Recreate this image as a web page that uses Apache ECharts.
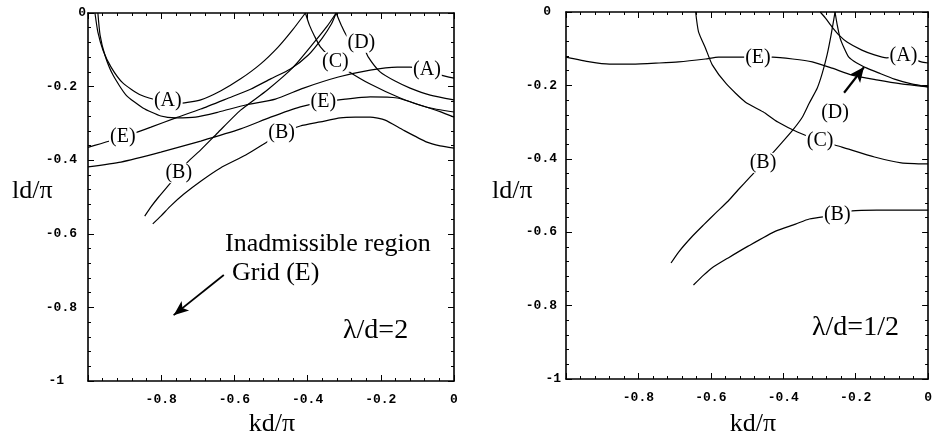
<!DOCTYPE html>
<html>
<head>
<meta charset="utf-8">
<script src="https://cdn.jsdelivr.net/npm/echarts/dist/echarts.min.js"></script>
<style>
  html, body { margin: 0; padding: 0; background: #fff; }
  #chart { width: 935px; height: 440px; }
</style>
</head>
<body>
<div id="chart"></div>
<script>
// ---- λ/d = 2 (left panel): loci in the (kd/π, ld/π) plane ----
const leftA1 = [[-0.981,0],[-0.973,-0.052],[-0.959,-0.101],[-0.937,-0.147],[-0.905,-0.190],[-0.856,-0.223],[-0.801,-0.239],[-0.747,-0.245],[-0.692,-0.236],[-0.638,-0.212],[-0.583,-0.179],[-0.529,-0.139],[-0.480,-0.092],[-0.441,-0.046],[-0.406,0]];
const leftA2 = [[-0.973,0],[-0.967,-0.060],[-0.954,-0.114],[-0.932,-0.168],[-0.896,-0.223],[-0.850,-0.258],[-0.801,-0.280],[-0.760,-0.285],[-0.706,-0.283],[-0.643,-0.269],[-0.569,-0.250],[-0.488,-0.234],[-0.411,-0.204],[-0.316,-0.174],[-0.229,-0.155],[-0.155,-0.147],[-0.120,-0.147],[-0.074,-0.155],[-0.038,-0.168],[0,-0.177]];
const leftE1 = [[-1.0,-0.365],[-0.905,-0.337],[-0.828,-0.310],[-0.760,-0.285],[-0.692,-0.261],[-0.616,-0.231],[-0.556,-0.207],[-0.501,-0.179],[-0.447,-0.152],[-0.398,-0.114],[-0.360,-0.068],[-0.335,-0.030],[-0.322,0]];
const leftE2 = [[-1.0,-0.418],[-0.910,-0.405],[-0.801,-0.378],[-0.692,-0.348],[-0.583,-0.315],[-0.501,-0.283],[-0.420,-0.255],[-0.357,-0.242],[-0.297,-0.234],[-0.229,-0.228],[-0.155,-0.231],[-0.093,-0.250],[-0.038,-0.268],[0,-0.283]];
const leftB1 = [[-0.845,-0.552],[-0.828,-0.527],[-0.807,-0.500],[-0.779,-0.467],[-0.752,-0.435],[-0.728,-0.405],[-0.692,-0.372],[-0.646,-0.326],[-0.583,-0.264],[-0.510,-0.209],[-0.439,-0.147],[-0.384,-0.082],[-0.346,-0.035],[-0.322,0]];
const leftB2 = [[-0.823,-0.573],[-0.801,-0.552],[-0.774,-0.524],[-0.738,-0.492],[-0.692,-0.457],[-0.638,-0.421],[-0.569,-0.386],[-0.515,-0.353],[-0.471,-0.326],[-0.420,-0.307],[-0.365,-0.296],[-0.311,-0.285],[-0.270,-0.283],[-0.229,-0.283],[-0.188,-0.291],[-0.139,-0.318],[-0.074,-0.351],[-0.038,-0.361],[0,-0.367]];
const leftC = [[-0.406,0],[-0.395,-0.033],[-0.381,-0.063],[-0.365,-0.092],[-0.324,-0.133],[-0.289,-0.158],[-0.229,-0.193],[-0.147,-0.231],[-0.074,-0.256],[0,-0.269]];
const leftD = [[-0.322,0],[-0.308,-0.033],[-0.292,-0.063],[-0.253,-0.081],[-0.234,-0.120],[-0.202,-0.160],[-0.161,-0.185],[-0.120,-0.204],[-0.065,-0.223],[0,-0.236]];
const leftLabels = [['(A)',-0.782,-0.239],['(A)',-0.074,-0.155],['(E)',-0.905,-0.337],['(E)',-0.357,-0.242],['(B)',-0.752,-0.435],['(B)',-0.471,-0.326],['(C)',-0.324,-0.133],['(D)',-0.253,-0.081]];
const leftArrow = [[-0.629,-0.712],[-0.766,-0.821]];

// ---- λ/d = 1/2 (right panel) ----
const rightE = [[-1.0,-0.123],[-0.934,-0.136],[-0.880,-0.142],[-0.817,-0.142],[-0.743,-0.139],[-0.689,-0.136],[-0.615,-0.128],[-0.579,-0.123],[-0.505,-0.123],[-0.470,-0.125],[-0.429,-0.123],[-0.374,-0.128],[-0.320,-0.136],[-0.265,-0.153],[-0.210,-0.172],[-0.142,-0.185],[-0.074,-0.196],[0,-0.204]];
const rightC = [[-0.642,0],[-0.634,-0.054],[-0.615,-0.098],[-0.596,-0.144],[-0.557,-0.196],[-0.505,-0.245],[-0.456,-0.272],[-0.415,-0.300],[-0.361,-0.327],[-0.298,-0.351],[-0.238,-0.368],[-0.148,-0.395],[-0.074,-0.411],[0,-0.414]];
const rightB1 = [[-0.710,-0.684],[-0.689,-0.654],[-0.653,-0.613],[-0.620,-0.580],[-0.587,-0.548],[-0.552,-0.515],[-0.525,-0.485],[-0.492,-0.450],[-0.456,-0.411],[-0.429,-0.384],[-0.402,-0.354],[-0.374,-0.322],[-0.347,-0.286],[-0.328,-0.248],[-0.306,-0.207],[-0.292,-0.166],[-0.279,-0.117],[-0.268,-0.063],[-0.257,0]];
const rightB2 = [[-0.648,-0.744],[-0.620,-0.717],[-0.598,-0.698],[-0.552,-0.670],[-0.497,-0.638],[-0.421,-0.597],[-0.366,-0.578],[-0.328,-0.564],[-0.251,-0.553],[-0.210,-0.542],[-0.142,-0.540],[0,-0.540]];
const rightA = [[-0.298,0],[-0.284,-0.016],[-0.265,-0.041],[-0.246,-0.063],[-0.224,-0.082],[-0.183,-0.104],[-0.148,-0.117],[-0.115,-0.125],[-0.068,-0.120],[-0.019,-0.136],[0,-0.139]];
const rightD = [[-0.257,0],[-0.251,-0.035],[-0.243,-0.071],[-0.232,-0.098],[-0.219,-0.123],[-0.197,-0.139],[-0.169,-0.153],[-0.137,-0.166],[-0.093,-0.183],[-0.046,-0.196],[0,-0.204]];
const rightLabels = [['(E)',-0.470,-0.125],['(C)',-0.298,-0.351],['(B)',-0.456,-0.411],['(B)',-0.251,-0.553],['(A)',-0.068,-0.120],['(D)',-0.257,-0.275]];
const rightArrow = [[-0.232,-0.220],[-0.177,-0.150]];

// axis range and tick step shared by both panels
const axisMin = -1, axisMax = 0, axisStep = 0.2;

const serif = '"Liberation Serif", "Times New Roman", serif';
const mono = '"Liberation Mono", "Courier New", monospace';

function fmtY(v) {
  if (Math.abs(v) < 1e-9) return '{z|0}';
  if (Math.abs(v + 1) < 1e-9) return '{m|-1}';
  return '{n|' + v.toFixed(1) + '}';
}
function fmtX(v) {
  if (Math.abs(v) < 1e-9) return '0';
  return v.toFixed(1);
}

function xAxisFor(gi, pos) {
  return {
    type: 'value', gridIndex: gi, position: pos,
    min: axisMin, max: axisMax, interval: axisStep,
    axisLine: { show: true, onZero: false, lineStyle: { color: '#000', width: 1.6 } },
    axisTick: { show: true, inside: true, length: 6, lineStyle: { color: '#000', width: 1 } },
    minorTick: { show: true, splitNumber: 5, length: 3, lineStyle: { color: '#000', width: 1 } },
    splitLine: { show: false },
    axisLabel: pos === 'bottom'
      ? { show: true, showMinLabel: false, margin: 12, formatter: fmtX,
          fontFamily: mono, fontSize: 13, fontWeight: 'bold', color: '#000' }
      : { show: false }
  };
}
function yAxisFor(gi, pos, pads) {
  return {
    type: 'value', gridIndex: gi, position: pos,
    min: axisMin, max: axisMax, interval: axisStep,
    axisLine: { show: true, onZero: false, lineStyle: { color: '#000', width: 1.6 } },
    axisTick: { show: true, inside: true, length: 6, lineStyle: { color: '#000', width: 1 } },
    minorTick: { show: true, splitNumber: 5, length: 3, lineStyle: { color: '#000', width: 1 } },
    splitLine: { show: false },
    axisLabel: pos === 'left'
      ? { show: true, margin: 2, formatter: fmtY, color: '#000',
          rich: {
            n: { fontFamily: mono, fontSize: 13, fontWeight: 'bold', color: '#000', padding: [0, pads[0], 0, 0] },
            z: { fontFamily: mono, fontSize: 13, fontWeight: 'bold', color: '#000', padding: [0, pads[1], 0, 0] },
            m: { fontFamily: mono, fontSize: 13, fontWeight: 'bold', color: '#000', padding: [0, pads[2], 0, 0] }
          } }
      : { show: false }
  };
}

function curve(data, gi) {
  return {
    type: 'line', data: data, xAxisIndex: gi * 2, yAxisIndex: gi * 2,
    symbol: 'none', showSymbol: false, smooth: 0.2, silent: true, z: 2,
    lineStyle: { color: '#000', width: 1.2 }
  };
}
function tags(list, gi) {
  return {
    type: 'scatter', xAxisIndex: gi * 2, yAxisIndex: gi * 2, z: 5, silent: true,
    symbolSize: 1, itemStyle: { color: '#fff', opacity: 1 },
    data: list.map(t => [t[1], t[2], t[0]]),
    label: {
      show: true, position: 'inside', formatter: p => p.data[2],
      fontFamily: serif, fontSize: 20, color: '#000', opacity: 1,
      textBorderWidth: 0, fontWeight: 'normal',
      backgroundColor: '#fff', padding: [0, 1], lineHeight: 20
    }
  };
}
function arrow(pair, gi, width, size) {
  return {
    type: 'line', data: [], xAxisIndex: gi * 2, yAxisIndex: gi * 2, silent: true,
    markLine: {
      silent: true, symbol: ['none', 'arrow'], symbolSize: size,
      label: { show: false },
      lineStyle: { color: '#000', width: width, type: 'solid' },
      data: [[{ coord: pair[0] }, { coord: pair[1] }]]
    }
  };
}

const chart = echarts.init(document.getElementById('chart'), null, { renderer: 'canvas' });

const textStyle = (text, x, y, size, align) => ({
  type: 'text', silent: true,
  style: { text: text, x: x, y: y, font: size + 'px ' + serif, fill: '#000',
           align: align || 'left', verticalAlign: 'middle',
           textAlign: align || 'left', textVerticalAlign: 'middle' }
});

chart.setOption({
  animation: false,
  backgroundColor: '#fff',
  grid: [
    { left: 88, top: 13, width: 366, height: 368 },
    { left: 566, top: 12, width: 366, height: 367 }
  ],
  xAxis: [
    xAxisFor(0, 'bottom'), xAxisFor(0, 'top'),
    xAxisFor(1, 'bottom'), xAxisFor(1, 'top')
  ],
  yAxis: [
    yAxisFor(0, 'left', [9, 0, 22]), yAxisFor(0, 'right'),
    yAxisFor(1, 'left', [7, 13, 3]), yAxisFor(1, 'right')
  ],
  series: [
    curve(leftA1, 0), curve(leftA2, 0), curve(leftE1, 0), curve(leftE2, 0),
    curve(leftB1, 0), curve(leftB2, 0), curve(leftC, 0), curve(leftD, 0),
    tags(leftLabels, 0),
    arrow(leftArrow, 0, 1.8, [9, 15]),
    curve(rightE, 1), curve(rightC, 1), curve(rightB1, 1), curve(rightB2, 1),
    curve(rightA, 1), curve(rightD, 1),
    tags(rightLabels, 1),
    arrow(rightArrow, 1, 2.2, [10, 15])
  ],
  graphic: [
    textStyle('ld/π', 12, 191, 26),
    textStyle('kd/π', 272, 424, 26, 'center'),
    textStyle('ld/π', 492, 191, 26),
    textStyle('kd/π', 753, 424, 26, 'center'),
    textStyle('Inadmissible region', 225, 244, 26),
    textStyle('Grid (E)', 232, 273, 26),
    textStyle('λ/d=2', 343, 331, 28),
    textStyle('λ/d=1/2', 812, 328, 28)
  ]
});
</script>
</body>
</html>
